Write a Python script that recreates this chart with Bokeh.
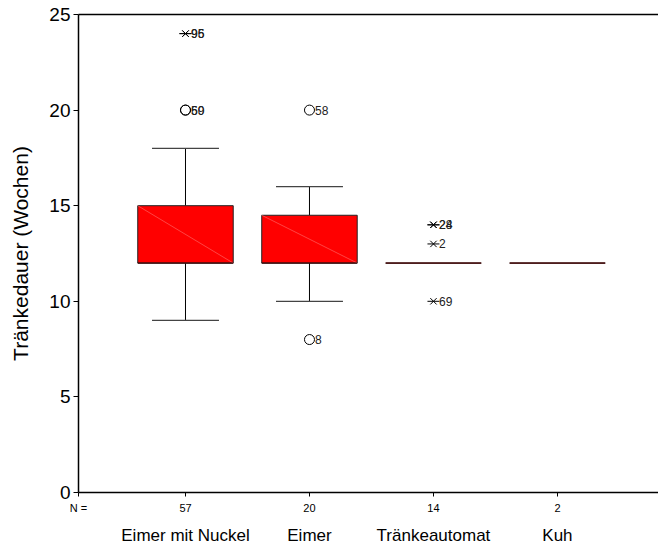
from bokeh.plotting import figure
from bokeh.models import LinearAxis, FixedTicker, ColumnDataSource, Range1d
from bokeh.core.properties import value
from bokeh.embed import file_html
from bokeh.resources import INLINE

# ---- data ----
categories = ["Eimer mit Nuckel", "Eimer", "Tränkeautomat", "Kuh"]
n_counts = [57, 20, 14, 2]
q1 = [12, 12, 12, 12]
median = [12, 12, 12, 12]
q3 = [15, 14.5, 12, 12]
whisk_low = [9, 10, 12, 12]
whisk_high = [18, 16, 12, 12]

# outliers (circle): group index, value, case label
out_group = [0, 0, 1, 1]
out_value = [20, 20, 20, 8]
out_label = ["59", "60", "58", "8"]
# extremes (star)
ext_group = [0, 0, 2, 2, 2, 2]
ext_value = [24, 24, 14, 14, 13, 10]
ext_label = ["95", "96", "24", "28", "2", "69"]

# ---- layout ----
box_pos = [1, 2, 3, 4]
X0, X1 = 0.137, 4.815
box_w = 0.77
cap_w = 0.54
FONT = "Liberation Sans"

p = figure(width=658, height=547, output_backend="svg", toolbar_location=None,
           x_range=Range1d(X0, X1), y_range=Range1d(0, 25),
           min_border_left=78, min_border_right=0, min_border_top=14,
           min_border_bottom=54)
p.outline_line_color = None
p.xgrid.visible = False
p.ygrid.visible = False

# y axis
p.yaxis.ticker = FixedTicker(ticks=[0, 5, 10, 15, 20, 25])
p.yaxis.axis_label = "Tränkedauer (Wochen)"
p.yaxis.axis_label_text_font = FONT
p.yaxis.axis_label_text_font_size = "21px"
p.yaxis.axis_label_text_font_style = "normal"
p.yaxis.axis_label_text_color = "black"
p.yaxis.axis_label_standoff = 14
p.yaxis.major_label_text_font = FONT
p.yaxis.major_label_text_font_size = "19px"
p.yaxis.major_label_text_color = "black"
p.yaxis.major_label_standoff = 3
p.yaxis.major_tick_out = 5
p.yaxis.major_tick_in = 0
p.yaxis.minor_tick_line_color = None
p.yaxis.axis_line_width = 1.5
p.yaxis.axis_line_color = "black"
p.yaxis.major_tick_line_color = "black"

# x axis with N counts ("N =" sits at the left frame edge)
n_ticks = [X0] + box_pos
n_labels = ["N ="] + [str(n) for n in n_counts]
p.xaxis.ticker = FixedTicker(ticks=n_ticks)
p.xaxis.major_label_overrides = {t: s for t, s in zip(n_ticks, n_labels)}
p.xaxis.major_label_text_font = FONT
p.xaxis.major_label_text_font_size = "11px"
p.xaxis.major_label_text_color = "black"
p.xaxis.major_label_standoff = 5
p.xaxis.major_tick_out = 4
p.xaxis.major_tick_in = 0
p.xaxis.minor_tick_line_color = None
p.xaxis.axis_line_width = 1.5
p.xaxis.axis_line_color = "black"
p.xaxis.major_tick_line_color = "black"

# second axis below with category names
cat_axis = LinearAxis(ticker=FixedTicker(ticks=box_pos),
                      major_label_overrides={t: c for t, c in zip(box_pos, categories)},
                      major_label_text_font=FONT, major_label_text_font_size="17px",
                      major_label_text_color="black",
                      major_label_standoff=3, axis_line_color=None,
                      major_tick_line_color=None, minor_tick_line_color=None)
p.add_layout(cat_axis, "below")

# top frame line
top_axis = LinearAxis(ticker=FixedTicker(ticks=[]), major_tick_line_color=None,
                      minor_tick_line_color=None, axis_line_color="black",
                      axis_line_width=1.5, major_label_standoff=0)
p.add_layout(top_axis, "above")

# whiskers
p.segment(x0=box_pos, y0=q3, x1=box_pos, y1=whisk_high, line_color="black", line_width=1)
p.segment(x0=box_pos, y0=q1, x1=box_pos, y1=whisk_low, line_color="black", line_width=1)
cap_l = [b - cap_w / 2 for b in box_pos]
cap_r = [b + cap_w / 2 for b in box_pos]
has_hw = [h > t for h, t in zip(whisk_high, q3)]
p.segment(x0=[a for a, k in zip(cap_l, has_hw) if k],
          x1=[a for a, k in zip(cap_r, has_hw) if k],
          y0=[h for h, k in zip(whisk_high, has_hw) if k],
          y1=[h for h, k in zip(whisk_high, has_hw) if k],
          line_color="#444444", line_width=1.2)
has_lw = [l < b for l, b in zip(whisk_low, q1)]
p.segment(x0=[a for a, k in zip(cap_l, has_lw) if k],
          x1=[a for a, k in zip(cap_r, has_lw) if k],
          y0=[l for l, k in zip(whisk_low, has_lw) if k],
          y1=[l for l, k in zip(whisk_low, has_lw) if k],
          line_color="#444444", line_width=1.2)

# boxes
p.vbar(x=box_pos, width=box_w, top=q3, bottom=q1, fill_color="#ff0000",
       line_color="#222222", line_width=1)
# diagonal shading artefact
p.segment(x0=[b - box_w / 2 for b in box_pos], y0=q3,
          x1=[b + box_w / 2 for b in box_pos], y1=q1,
          line_color="#ff7070", line_width=0.6)
# median
p.segment(x0=[b - box_w / 2 for b in box_pos], y0=median,
          x1=[b + box_w / 2 for b in box_pos], y1=median,
          line_color="#3a0a0a", line_width=1.2)

# outliers
ox = [box_pos[g] for g in out_group]
p.scatter(x=ox, y=out_value, marker="circle", size=10, fill_color=None,
          line_color="black", line_width=1)
src_o = ColumnDataSource(dict(x=[x + 0.045 for x in ox], y=out_value, t=out_label))
p.text(x="x", y="y", text="t", source=src_o, text_font=value(FONT),
       text_font_size="12px", text_baseline="middle", text_color="#222222")

# extremes: X with a horizontal bar
ex = [box_pos[g] for g in ext_group]
p.scatter(x=ex, y=ext_value, marker="x", size=9, line_color="black", line_width=1)
p.scatter(x=ex, y=ext_value, marker="dash", size=12, line_color="black", line_width=1)
src_e = ColumnDataSource(dict(x=[x + 0.045 for x in ex], y=ext_value, t=ext_label))
p.text(x="x", y="y", text="t", source=src_e, text_font=value(FONT),
       text_font_size="12px", text_baseline="middle", text_color="#222222")

open("out.html", "w").write(file_html(p, INLINE))
